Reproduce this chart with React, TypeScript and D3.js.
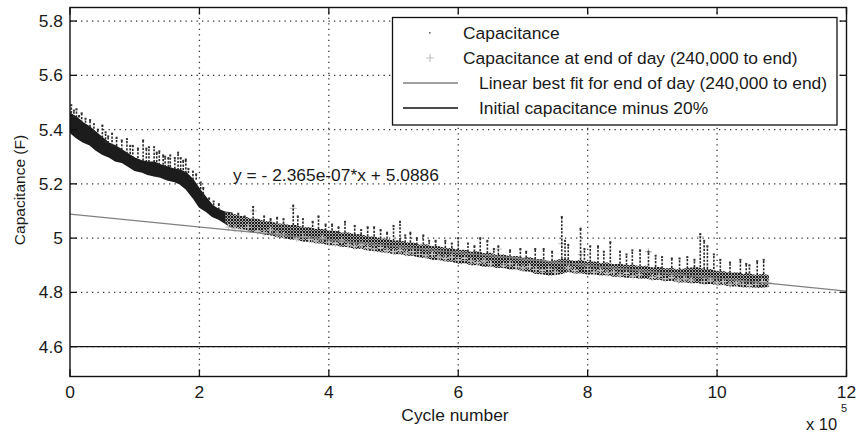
import React from 'react';
import * as d3 from 'd3';

// ---------- data (cycle number in units of 1e5) ----------
const xTicks = [0, 2, 4, 6, 8, 10, 12];
const yTicks = [4.6, 4.8, 5, 5.2, 5.4, 5.6, 5.8];

const capX = [
  0, 0.1, 0.2, 0.3, 0.4, 0.5, 0.6, 0.7, 0.8, 0.9, 1.0, 1.1, 1.2, 1.3, 1.4, 1.5, 1.6, 1.7, 1.8, 1.9, 2.0, 2.1, 2.2, 2.3, 2.4,
  2.5, 2.6, 2.7, 2.8, 2.9, 3.0, 3.1, 3.2, 3.3, 3.4, 3.5, 3.6, 3.7, 3.8, 3.9, 4.0, 4.1, 4.2, 4.3, 4.4, 4.5, 4.6, 4.7, 4.8, 4.9,
  5.0, 5.1, 5.2, 5.3, 5.4, 5.5, 5.6, 5.7, 5.8, 5.9, 6.0, 6.1, 6.2, 6.3, 6.4, 6.5, 6.6, 6.7, 6.8, 6.9, 7.0, 7.1, 7.2, 7.3, 7.4,
  7.5, 7.6, 7.7, 7.8, 7.9, 8.0, 8.1, 8.2, 8.3, 8.4, 8.5, 8.6, 8.7, 8.8, 8.9, 9.0, 9.1, 9.2, 9.3, 9.4, 9.5, 9.6, 9.7, 9.8, 9.9,
  10.0, 10.1, 10.2, 10.3, 10.4, 10.5, 10.6, 10.7, 10.8,
];
const capLow = [
  5.39, 5.37, 5.355, 5.345, 5.325, 5.31, 5.30, 5.285, 5.28, 5.265, 5.25, 5.245, 5.235, 5.23, 5.225, 5.215, 5.21, 5.20, 5.18, 5.15, 5.115, 5.10, 5.08, 5.07, 5.055,
  5.040, 5.034, 5.031, 5.022, 5.021, 5.012, 5.011, 5.003, 5.001, 4.995, 4.994, 4.988, 4.987, 4.981, 4.980, 4.974, 4.973, 4.968, 4.967, 4.960, 4.961, 4.954, 4.953, 4.948, 4.947,
  4.941, 4.941, 4.935, 4.935, 4.928, 4.927, 4.920, 4.919, 4.914, 4.913, 4.906, 4.907, 4.900, 4.901, 4.894, 4.895, 4.890, 4.891, 4.884, 4.885, 4.878, 4.877, 4.868, 4.867, 4.862,
  4.864, 4.868, 4.875, 4.870, 4.871, 4.866, 4.867, 4.862, 4.863, 4.858, 4.859, 4.854, 4.855, 4.850, 4.851, 4.846, 4.847, 4.842, 4.843, 4.836, 4.837, 4.834, 4.835, 4.830, 4.831,
  4.826, 4.827, 4.822, 4.823, 4.818, 4.819, 4.816, 4.817, 4.820,
];
const capHigh = [
  5.46, 5.445, 5.425, 5.41, 5.39, 5.37, 5.35, 5.34, 5.325, 5.31, 5.295, 5.285, 5.28, 5.28, 5.27, 5.262, 5.255, 5.25, 5.24, 5.215, 5.18, 5.15, 5.12, 5.105, 5.095,
  5.092, 5.083, 5.080, 5.072, 5.071, 5.062, 5.062, 5.054, 5.053, 5.048, 5.048, 5.040, 5.041, 5.034, 5.034, 5.028, 5.027, 5.020, 5.021, 5.014, 5.014, 5.006, 5.006, 4.998, 4.998,
  4.990, 4.992, 4.984, 4.984, 4.976, 4.977, 4.970, 4.970, 4.964, 4.964, 4.956, 4.957, 4.950, 4.952, 4.944, 4.946, 4.938, 4.940, 4.932, 4.934, 4.928, 4.930, 4.922, 4.922, 4.916,
  4.918, 4.924, 4.921, 4.916, 4.920, 4.912, 4.914, 4.908, 4.910, 4.904, 4.906, 4.900, 4.902, 4.896, 4.898, 4.892, 4.894, 4.888, 4.890, 4.884, 4.888, 4.892, 4.893, 4.886, 4.886,
  4.878, 4.878, 4.872, 4.874, 4.868, 4.870, 4.864, 4.868, 4.864,
];

const spikeX = [
  0.02, 0.06, 0.1, 0.14, 0.18, 0.24, 0.31, 0.37, 0.43, 0.5, 0.55, 0.59, 0.65, 0.72, 0.8, 0.88, 0.93, 0.97, 1.05, 1.13, 1.18, 1.22, 1.3, 1.34, 1.38, 1.44,
  1.47, 1.52, 1.55, 1.62, 1.67, 1.71, 1.75, 1.79, 1.83, 1.9, 1.95, 2.02, 2.06, 2.15, 2.22, 2.3,
  2.6, 2.7, 2.83, 3.0, 3.1, 3.2, 3.3, 3.45, 3.52, 3.6, 3.75, 3.84, 3.95, 4.05, 4.15, 4.25, 4.4, 4.5, 4.6, 4.7, 4.8, 4.9, 5.0, 5.1, 5.18,
  5.26, 5.36, 5.46, 5.55, 5.65, 5.8, 5.9, 6.0, 6.15, 6.25, 6.34, 6.45, 6.55, 6.62, 6.8, 6.96, 7.05, 7.19, 7.32, 7.45, 7.6, 7.65, 7.7,
  7.89, 7.95, 8.04, 8.16, 8.25, 8.35, 8.5, 8.6, 8.69, 8.81, 8.94, 9.05, 9.15, 9.3, 9.42, 9.54, 9.65, 9.74, 9.8, 9.85, 9.95,
  10.05, 10.2, 10.36, 10.45, 10.5, 10.62, 10.72,
];
const spikeTop = [
  5.49, 5.47, 5.475, 5.45, 5.46, 5.44, 5.435, 5.42, 5.40, 5.415, 5.39, 5.375, 5.385, 5.37, 5.36, 5.365, 5.34, 5.34, 5.33, 5.36, 5.33, 5.335, 5.335, 5.315, 5.32, 5.305,
  5.30, 5.295, 5.305, 5.295, 5.315, 5.295, 5.285, 5.29, 5.255, 5.245, 5.235, 5.205, 5.185, 5.145, 5.135, 5.125,
  5.09, 5.08, 5.115, 5.08, 5.07, 5.075, 5.07, 5.12, 5.08, 5.07, 5.06, 5.08, 5.05, 5.05, 5.04, 5.06, 5.045, 5.03, 5.04, 5.04, 5.03, 5.02, 5.045, 5.06, 5.01,
  5.02, 5.0, 5.01, 4.99, 4.99, 4.99, 4.98, 5.0, 4.98, 4.97, 5.0, 4.99, 4.96, 4.97, 4.955, 4.96, 4.95, 4.96, 4.96, 4.95, 5.078, 4.99, 4.975,
  5.035, 4.96, 4.97, 4.97, 4.95, 4.985, 4.95, 4.94, 4.955, 4.955, 4.95, 4.935, 4.93, 4.925, 4.925, 4.93, 4.92, 5.015, 4.99, 4.97, 4.94,
  4.92, 4.91, 4.92, 4.905, 4.9, 4.915, 4.92,
];

const eodX = [
  2.45, 2.55, 2.65, 2.75, 2.83, 2.9, 3.0, 3.1, 3.2, 3.3, 3.45, 3.5, 3.6, 3.7, 3.8, 3.9, 4.0, 4.1, 4.2, 4.3, 4.4, 4.5, 4.6, 4.7, 4.8,
  4.9, 5.0, 5.1, 5.2, 5.3, 5.4, 5.5, 5.6, 5.7, 5.8, 5.9, 6.0, 6.1, 6.2, 6.3, 6.4, 6.5, 6.62, 6.7, 6.8, 6.9, 7.0, 7.1, 7.2, 7.3,
  7.4, 7.5, 7.6, 7.7, 7.8, 7.9, 8.0, 8.1, 8.2, 8.3, 8.4, 8.5, 8.6, 8.7, 8.8, 8.94, 9.0, 9.1, 9.2, 9.3, 9.4, 9.5, 9.6, 9.74, 9.8,
  9.9, 10.0, 10.1, 10.2, 10.3, 10.4, 10.5, 10.6, 10.7, 10.8,
];
const eodY = [
  5.04, 5.035, 5.03, 5.04, 5.10, 5.025, 5.02, 5.03, 5.015, 5.01, 5.11, 5.0, 5.005, 4.995, 4.99, 5.0, 4.985, 4.98, 4.99, 4.975, 4.97, 4.975, 4.965, 4.96, 4.965,
  4.955, 4.95, 4.955, 4.945, 4.95, 4.94, 4.935, 4.94, 4.93, 4.925, 4.93, 4.92, 4.925, 4.915, 4.91, 4.915, 4.905, 4.96, 4.9, 4.905, 4.895, 4.89, 4.895, 4.885, 4.88,
  4.885, 4.875, 4.98, 4.89, 4.88, 4.94, 4.885, 4.875, 4.88, 4.87, 4.875, 4.865, 4.87, 4.86, 4.865, 4.95, 4.855, 4.86, 4.85, 4.855, 4.845, 4.85, 4.845, 5.005, 4.84,
  4.845, 4.835, 4.84, 4.83, 4.835, 4.83, 4.825, 4.83, 4.84, 4.835,
];

const fitSlope = -2.365e-7;
const fitIntercept = 5.0886;
const fitRange = [0, 12];
const initialMinus20 = 4.6;
const endOfDayStart = 2.4;
const equationText = 'y = - 2.365e-07*x + 5.0886';
const legendLabels = [
  'Capacitance',
  'Capacitance at end of day (240,000 to end)',
  'Linear best fit for end of day (240,000 to end)',
  'Initial capacitance minus 20%',
];

const FONT = '"Liberation Sans", Arial, Helvetica, sans-serif';
const TXT = '#1a1a1a';
const FS = 17.4;

export default function App() {
  const x = d3.scaleLinear().domain([0, 12]).range([70, 846.5]);
  const y = d3.scaleLinear().domain([4.49, 5.85]).range([376.5, 7.5]);
  const [x0, x1] = x.range();
  const [yb, yt] = y.range();

  const idx = capX.map((_, i) => i);
  const earlyIdx = idx.filter((i) => capX[i] <= endOfDayStart + 0.1);
  const lateIdx = idx.filter((i) => capX[i] >= endOfDayStart);
  const band = d3
    .area<number>()
    .x((i) => x(capX[i]))
    .y0((i) => y(capLow[i]))
    .y1((i) => y(capHigh[i]));

  const fitLine = d3.line<number>().x((d) => x(d)).y((d) => y(fitIntercept + fitSlope * d * 1e5));

  const nearestHigh = (sx: number) => {
    const i = d3.leastIndex(capX, (a) => Math.abs(a - sx)) ?? 0;
    return capHigh[i];
  };

  return (
    <svg width={861} height={434} style={{ position: 'absolute', left: 0, top: 0, background: '#fff' }}>
      <defs>
        <pattern id="speck" width="3" height="3" patternUnits="userSpaceOnUse">
          <rect x="0" y="0" width="2" height="2" fill="#1e1e1e" />
          <rect x="2" y="2" width="1" height="1" fill="#2a2a2a" />
        </pattern>
        <clipPath id="plotClip">
          <rect x={x0} y={yt} width={x1 - x0} height={yb - yt} />
        </clipPath>
      </defs>

      {/* grid */}
      <g stroke="#333" strokeWidth={1.3} strokeDasharray="1.3,4.2">
        {xTicks.filter((t) => t > 0 && t < 12).map((t) => (
          <line key={'gx' + t} x1={x(t)} x2={x(t)} y1={yb} y2={yt} />
        ))}
        {yTicks.map((t) => (
          <line key={'gy' + t} x1={x0} x2={x1} y1={y(t)} y2={y(t)} />
        ))}
      </g>

      <g clipPath="url(#plotClip)">
        {/* initial capacitance minus 20% */}
        <line x1={x0} x2={x1} y1={y(initialMinus20)} y2={y(initialMinus20)} stroke="#111" strokeWidth={1.4} />

        {/* capacitance band: early solid, later speckled over grey */}
        <path d={band(earlyIdx) || ''} fill="#1c1c1c" stroke="#1c1c1c" strokeWidth={1.5} />
        <path d={band(lateIdx) || ''} fill="#a9a9a9" />
        <path d={band(lateIdx) || ''} fill="url(#speck)" />

        {/* end of day markers */}
        <g stroke="#c4c4c4" strokeWidth={1.2}>
          {eodX.map((ex, i) => (
            <path key={'e' + i} d={`M${x(ex) - 3.5},${y(eodY[i])}h7M${x(ex)},${y(eodY[i]) - 3.5}v7`} />
          ))}
        </g>

        {/* spikes */}
        <g stroke="#2a2a2a" strokeWidth={1.6} strokeDasharray="2.2,1.4">
          {spikeX.map((sx, i) => (
            <line key={'s' + i} x1={x(sx)} x2={x(sx)} y1={y(nearestHigh(sx))} y2={y(spikeTop[i])} />
          ))}
        </g>
        <g fill="#333">
          {spikeX.map((sx, i) => (
            <rect key={'sd' + i} x={x(sx) - 1} y={y(spikeTop[i]) - 1} width={2} height={2} />
          ))}
        </g>

        {/* fit line */}
        <path d={fitLine(fitRange) || ''} fill="none" stroke="#808080" strokeWidth={1.3} />
      </g>

      {/* equation */}
      <text x={233} y={180.5} fontFamily={FONT} fontSize={FS} fill={TXT}>{equationText}</text>

      {/* legend */}
      <g>
        <rect x={392.5} y={17.5} width={444.5} height={107.5} fill="#fff" stroke="#111" strokeWidth={1.3} />
        <rect x={429} y={32} width={1.6} height={1.6} fill="#666" />
        <path d="M426,58h8M430,54v8" stroke="#c4c4c4" strokeWidth={1.2} />
        <line x1={403} x2={458} y1={83} y2={83} stroke="#808080" strokeWidth={1.3} />
        <line x1={403} x2={458} y1={108} y2={108} stroke="#111" strokeWidth={1.3} />
        <g fontFamily={FONT} fontSize={FS} fill={TXT}>
          <text x={463} y={39}>{legendLabels[0]}</text>
          <text x={463} y={64}>{legendLabels[1]}</text>
          <text x={479} y={89}>{legendLabels[2]}</text>
          <text x={479} y={114}>{legendLabels[3]}</text>
        </g>
      </g>

      {/* axes box and ticks */}
      <rect x={x0} y={yt} width={x1 - x0} height={yb - yt} fill="none" stroke="#111" strokeWidth={1.4} />
      <g stroke="#111" strokeWidth={1.3}>
        {xTicks.map((t) => (
          <g key={'tx' + t}>
            <line x1={x(t)} x2={x(t)} y1={yb} y2={yb - 7} />
            <line x1={x(t)} x2={x(t)} y1={yt} y2={yt + 7} />
          </g>
        ))}
        {yTicks.map((t) => (
          <g key={'ty' + t}>
            <line x1={x0} x2={x0 + 7} y1={y(t)} y2={y(t)} />
            <line x1={x1} x2={x1 - 7} y1={y(t)} y2={y(t)} />
          </g>
        ))}
      </g>
      <g fontFamily={FONT} fontSize={FS} fill={TXT}>
        {xTicks.map((t) => (
          <text key={'lx' + t} x={x(t)} y={398} textAnchor="middle">{t}</text>
        ))}
        {yTicks.map((t) => (
          <text key={'ly' + t} x={63} y={y(t)} dy="0.35em" textAnchor="end">{d3.format('~g')(t)}</text>
        ))}
        <text x={455} y={420.5} textAnchor="middle">Cycle number</text>
        <text x={806} y={430} fontSize={16.5}>x 10</text>
        <text x={841} y={412} fontSize={11}>5</text>
        <text transform="translate(25,190) rotate(-90)" textAnchor="middle" fontSize={15.5}>Capacitance (F)</text>
      </g>
    </svg>
  );
}
